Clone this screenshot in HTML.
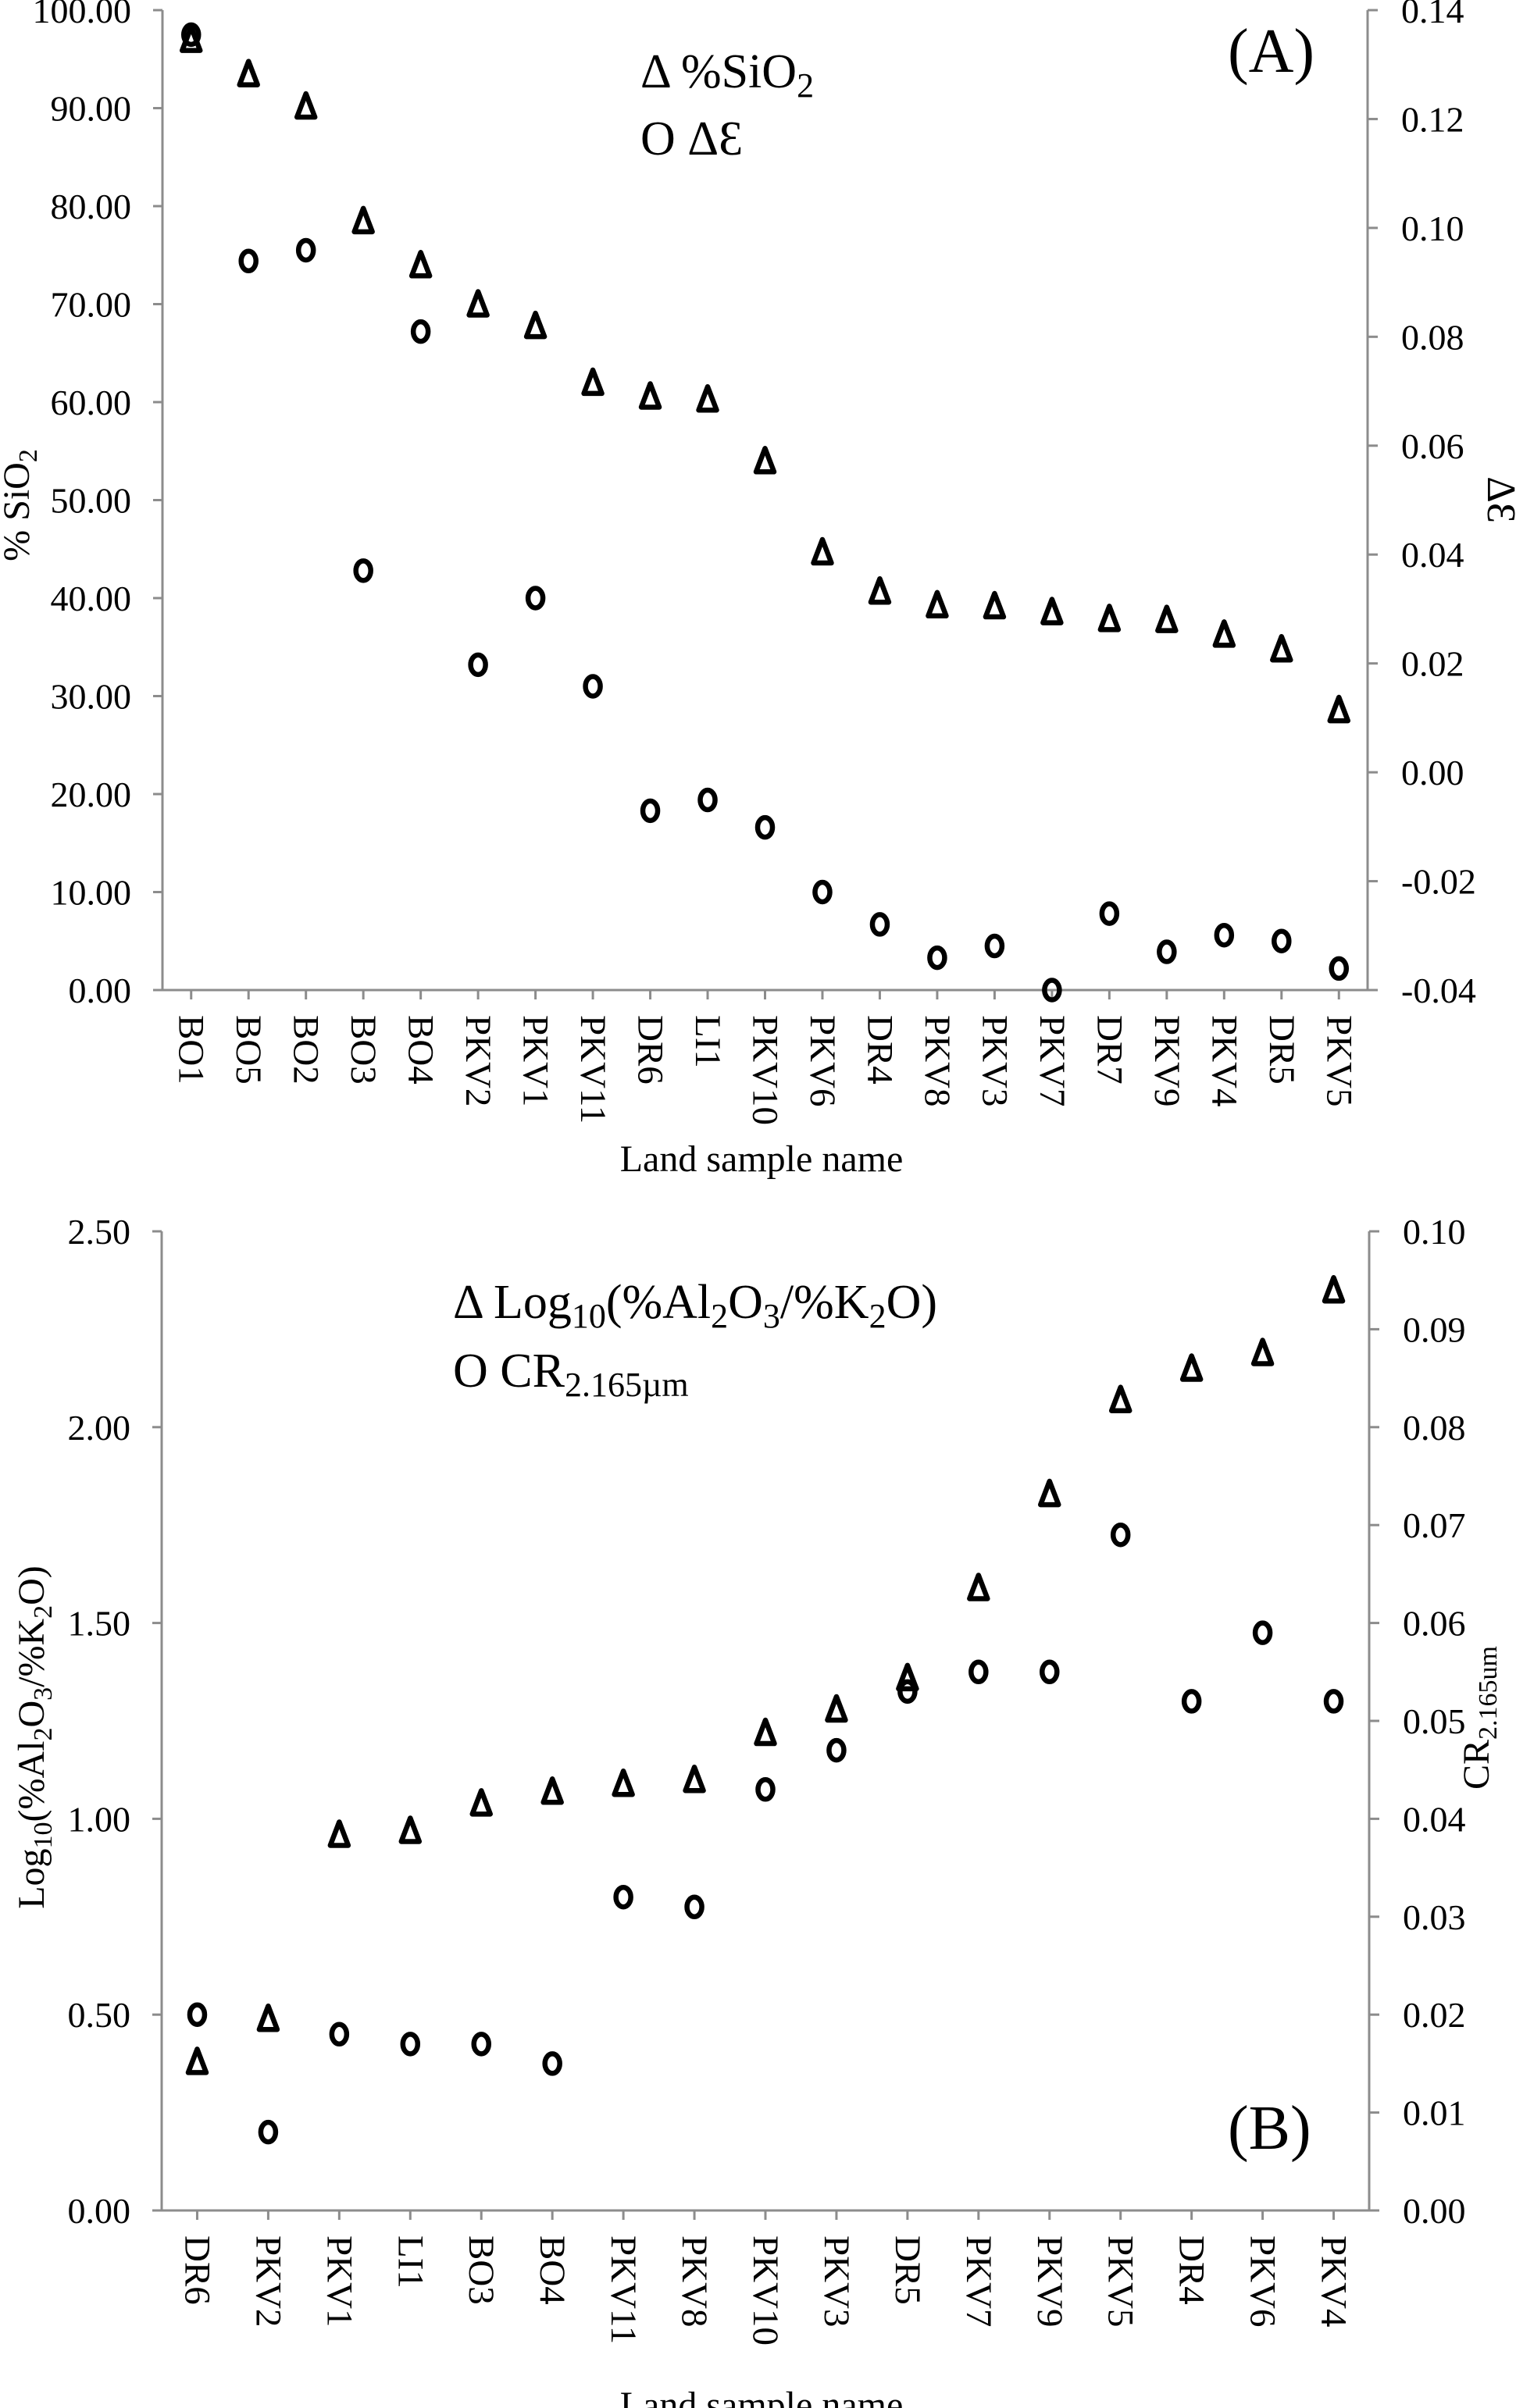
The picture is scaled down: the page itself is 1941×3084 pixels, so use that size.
<!DOCTYPE html>
<html><head><meta charset="utf-8"><style>
html,body{margin:0;padding:0;background:#fff}
svg{display:block}
text{font-family:"Liberation Serif",serif;fill:#000}
</style></head><body>
<svg id="s" xmlns="http://www.w3.org/2000/svg" width="1941" height="3084" viewBox="0 0 1941 3084">
<rect width="1941" height="3084" fill="#fff"/>
<g id="g"></g>
<text x="820" y="112" font-size="62">Δ  %SiO<tspan font-size="44" dy="12">2</tspan></text>
<text x="820" y="198" font-size="62">O  ΔƐ</text>
<text x="1572" y="92" font-size="80">(A)</text>
<text x="975" y="1500" font-size="48" text-anchor="middle">Land sample name</text>
<text transform="translate(37,647) rotate(-90)" font-size="48" text-anchor="middle">% SiO<tspan font-size="34" dy="10">2</tspan></text>
<text transform="translate(1905,640) rotate(90)" font-size="52" text-anchor="middle">ΔƐ</text>

<text x="580" y="1688" font-size="62">Δ  Log<tspan font-size="44" dy="12">10</tspan><tspan dy="-12">(%Al</tspan><tspan font-size="44" dy="12">2</tspan><tspan dy="-12">O</tspan><tspan font-size="44" dy="12">3</tspan><tspan dy="-12">/%K</tspan><tspan font-size="44" dy="12">2</tspan><tspan dy="-12">O)</tspan></text>
<text x="580" y="1776" font-size="62">O  CR<tspan font-size="44" dy="12">2.165µm</tspan></text>
<text x="1572" y="2752" font-size="80">(B)</text>
<text x="975" y="3096" font-size="48" text-anchor="middle">Land sample name</text>
<text transform="translate(56,2225) rotate(-90)" font-size="48" text-anchor="middle">Log<tspan font-size="34" dy="10">10</tspan><tspan dy="-10">(%Al</tspan><tspan font-size="34" dy="10">2</tspan><tspan dy="-10">O</tspan><tspan font-size="34" dy="10">3</tspan><tspan dy="-10">/%K</tspan><tspan font-size="34" dy="10">2</tspan><tspan dy="-10">O)</tspan></text>
<text transform="translate(1906,2200) rotate(-90)" font-size="48" text-anchor="middle">CR<tspan font-size="34" dy="10">2.165um</tspan></text>
</svg>
<script>
var NS="http://www.w3.org/2000/svg",g=document.getElementById("g");
function el(t,a,txt){var e=document.createElementNS(NS,t);for(var k in a)e.setAttribute(k,a[k]);if(txt!=null)e.textContent=txt;g.appendChild(e);return e;}
function tri(x,y){el("path",{d:"M"+x+","+(y-16)+" L"+(x+11.5)+","+(y+14)+" L"+(x-11.5)+","+(y+14)+" Z",fill:"none",stroke:"#000","stroke-width":6.5,"stroke-linejoin":"round"});}
function circ(x,y){el("ellipse",{cx:x,cy:y,rx:9.5,ry:12.5,fill:"none",stroke:"#000","stroke-width":6.5});}
function chart(o){
  var L=o.L,R=o.R,T=o.T,B=o.B,n=o.cats.length,w=(R-L)/n,ax="#8c8c8c";
  el("line",{x1:L,y1:T,x2:L,y2:B,stroke:ax,"stroke-width":3});
  el("line",{x1:R,y1:T,x2:R,y2:B,stroke:ax,"stroke-width":3});
  el("line",{x1:L-12,y1:B,x2:R+12,y2:B,stroke:ax,"stroke-width":3});
  for(var i=0;i<o.lt.length;i++){var y=B-(B-T)*i/(o.lt.length-1);
    el("line",{x1:L-12,y1:y,x2:L,y2:y,stroke:ax,"stroke-width":3});
    el("text",{x:L-40,y:y+16,"font-size":46,"text-anchor":"end"},o.lt[i]);}
  for(var i=0;i<o.rt.length;i++){var y=B-(B-T)*i/(o.rt.length-1);
    el("line",{x1:R,y1:y,x2:R+13,y2:y,stroke:ax,"stroke-width":3});
    el("text",{x:R+43,y:y+16,"font-size":46},o.rt[i]);}
  for(var i=0;i<n;i++){var x=L+w*(i+0.5);
    el("line",{x1:x,y1:B,x2:x,y2:B+12,stroke:ax,"stroke-width":3});
    el("text",{transform:"translate("+(x-15)+","+(o.B+32)+") rotate(90)","font-size":47},o.cats[i]);}
  var sc=(B-T)/o.max;
  for(var i=0;i<n;i++){var x=L+w*(i+0.5);tri(x,B-o.t[i]*sc);circ(x,B-o.c[i]*sc);}
}
chart({L:208,R:1751,T:13,B:1268,max:100,
 lt:["0.00","10.00","20.00","30.00","40.00","50.00","60.00","70.00","80.00","90.00","100.00"],
 rt:["-0.04","-0.02","0.00","0.02","0.04","0.06","0.08","0.10","0.12","0.14"],
 cats:["BO1","BO5","BO2","BO3","BO4","PKV2","PKV1","PKV11","DR6","LI1","PKV10","PKV6","DR4","PKV8","PKV3","PKV7","DR7","PKV9","PKV4","DR5","PKV5"],
 t:[97,93.5,90.2,78.5,74,70,67.8,62,60.6,60.3,54,44.7,40.7,39.3,39.2,38.6,37.9,37.8,36.3,34.8,28.6],
 c:[97.5,74.4,75.5,42.8,67.2,33.2,40,31,18.3,19.4,16.6,10,6.7,3.3,4.5,0,7.8,3.9,5.6,5,2.2]});
chart({L:207,R:1753,T:1577,B:2831,max:2.5,
 lt:["0.00","0.50","1.00","1.50","2.00","2.50"],
 rt:["0.00","0.01","0.02","0.03","0.04","0.05","0.06","0.07","0.08","0.09","0.10"],
 cats:["DR6","PKV2","PKV1","LI1","BO3","BO4","PKV11","PKV8","PKV10","PKV3","DR5","PKV7","PKV9","PKV5","DR4","PKV6","PKV4"],
 t:[0.38,0.49,0.96,0.97,1.04,1.07,1.09,1.10,1.22,1.28,1.36,1.59,1.83,2.07,2.15,2.19,2.35],
 c:[0.50,0.20,0.45,0.425,0.425,0.375,0.80,0.775,1.075,1.175,1.325,1.375,1.375,1.725,1.30,1.475,1.30]});
</script>
</body></html>
